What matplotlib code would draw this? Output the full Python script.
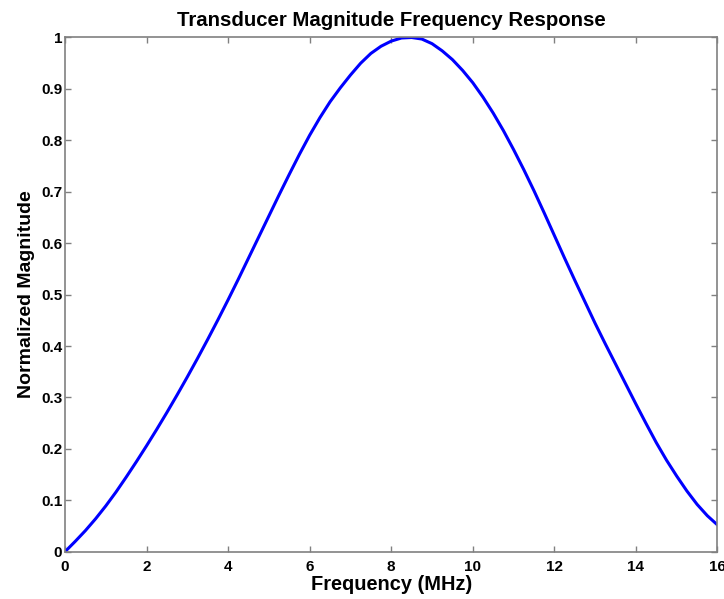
import matplotlib
matplotlib.use("Agg")
import matplotlib.pyplot as plt
import numpy as np


# ==================================
# 数据 (从图中读取, 每 0.25 MHz 一个点)
# ==================================
freq_mhz = [
    0.0, 0.25, 0.5, 0.75, 1.0, 1.25, 1.5, 1.75,
    2.0, 2.25, 2.5, 2.75, 3.0, 3.25, 3.5, 3.75,
    4.0, 4.25, 4.5, 4.75, 5.0, 5.25, 5.5, 5.75,
    6.0, 6.25, 6.5, 6.75, 7.0, 7.25, 7.5, 7.75,
    8.0, 8.25, 8.5, 8.75, 9.0, 9.25, 9.5, 9.75,
    10.0, 10.25, 10.5, 10.75, 11.0, 11.25, 11.5, 11.75,
    12.0, 12.25, 12.5, 12.75, 13.0, 13.25, 13.5, 13.75,
    14.0, 14.25, 14.5, 14.75, 15.0, 15.25, 15.5, 15.75,
    16.0,
]
magnitude = [
    0.0, 0.020, 0.041, 0.064, 0.089, 0.116, 0.145, 0.175,
    0.206, 0.238, 0.271, 0.305, 0.340, 0.376, 0.413, 0.451,
    0.490, 0.530, 0.571, 0.612, 0.653, 0.694, 0.734, 0.773,
    0.810, 0.844, 0.875, 0.902, 0.927, 0.950, 0.969, 0.983,
    0.993, 0.999, 1.0, 0.997, 0.988, 0.974, 0.957, 0.936,
    0.912, 0.884, 0.853, 0.819, 0.782, 0.743, 0.702, 0.659,
    0.615, 0.571, 0.528, 0.486, 0.444, 0.404, 0.365, 0.326,
    0.287, 0.249, 0.212, 0.178, 0.147, 0.118, 0.092, 0.070,
    0.052,
]
x_ticks = [0, 2, 4, 6, 8, 10, 12, 14, 16]
y_ticks = [0, 0.1, 0.2, 0.3, 0.4, 0.5, 0.6, 0.7, 0.8, 0.9, 1]
y_tick_labels = ["0", "0.1", "0.2", "0.3", "0.4", "0.5",
                 "0.6", "0.7", "0.8", "0.9", "1"]

plt.rcParams["font.family"] = ["Liberation Sans", "DejaVu Sans"]
plt.rcParams["font.weight"] = "bold"

fig = plt.figure(figsize=(7.24, 5.99), dpi=100)
ax = fig.add_axes([0.0898, 0.079, 0.9012, 0.8584])

ax.plot(freq_mhz, magnitude, color="#0000ff", linewidth=2.2,
        solid_joinstyle="round")

ax.set_xlim(0, 16)
ax.set_ylim(0, 1)
ax.set_xticks(x_ticks)
ax.set_xticklabels([str(t) for t in x_ticks])
ax.set_yticks(y_ticks)
ax.set_yticklabels(y_tick_labels)

# MATLAB 风格坐标轴
for spine in ax.spines.values():
    spine.set_color("#808080")
    spine.set_linewidth(1.2)

ax.tick_params(
    direction="in",
    length=4.5,
    width=1,
    color="#808080",
    labelsize=11,
    top=True,
    right=True,
)
ax.tick_params(axis="x", pad=6)
ax.tick_params(axis="y", pad=2)

ax.set_title(
    "Transducer Magnitude Frequency Response",
    fontsize=14.7,
    fontweight="bold",
    pad=8,
)
ax.set_xlabel("Frequency (MHz)", fontsize=14.4, fontweight="bold", labelpad=1)
ax.set_ylabel("Normalized Magnitude", fontsize=14, fontweight="bold", labelpad=4)

fig.savefig("out.png", dpi=100)
